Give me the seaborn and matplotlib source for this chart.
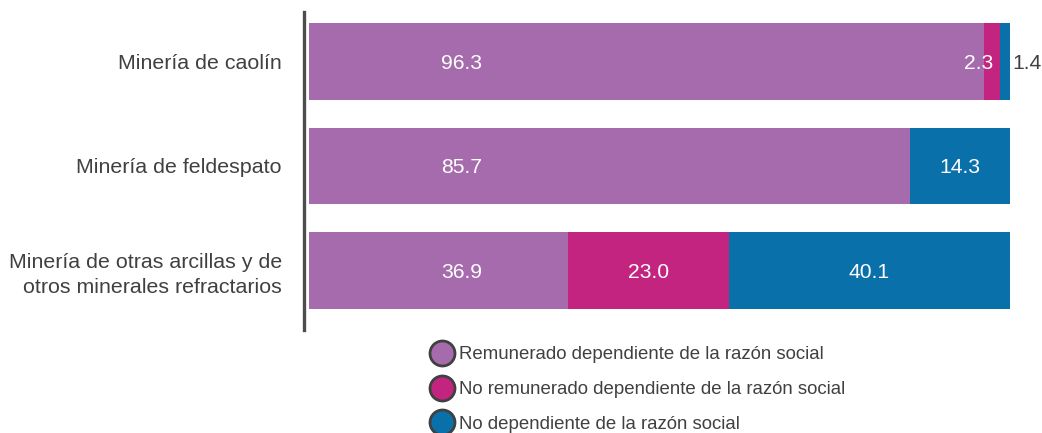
import matplotlib
matplotlib.use("Agg")
import matplotlib.pyplot as plt
from matplotlib.lines import Line2D
import seaborn as sns
import pandas as pd
import numpy as np

# Data: share of personnel by type of dependence (%)
categories = [
    "Minería de caolín",
    "Minería de feldespato",
    "Minería de otras arcillas y de\notros minerales refractarios",
]
series_names = [
    "Remunerado dependiente de la razón social",
    "No remunerado dependiente de la razón social",
    "No dependiente de la razón social",
]
remunerado = [96.3, 85.7, 36.9]
no_remunerado = [2.3, 0.0, 23.0]
no_dependiente = [1.4, 14.3, 40.1]

colors = ["#A66BAC", "#C2247F", "#0A70AA"]
text_dark = "#404040"

sns.set_theme(style="white")
plt.rcParams["font.family"] = ["Liberation Sans", "DejaVu Sans"]

fig = plt.figure(figsize=(10.42, 4.33), dpi=100)
ax = fig.add_axes([304 / 1042, 1 - 330 / 433, 706 / 1042, 318 / 433])

values = [remunerado, no_remunerado, no_dependiente]
left = np.zeros(len(categories))
for name, vals, col in zip(series_names, values, colors):
    df = pd.DataFrame({"cat": categories, "val": vals, "left": left})
    ax.barh(df["cat"], df["val"], left=df["left"], color=col, height=0.73,
            edgecolor="none")
    left = left + np.array(vals)

# Value labels
fs_val = 15.2
for i in range(len(categories)):
    start = 0.0
    for k, vals in enumerate(values):
        v = vals[i]
        if v <= 0:
            continue
        if k == 0:
            ax.text(21.8, i, f"{v:.1f}", ha="center", va="center_baseline",
                    color="white", fontsize=fs_val)
        elif v < 2:
            ax.text(start + v + 0.4, i, f"{v:.1f}", ha="left",
                    va="center_baseline", color=text_dark, fontsize=fs_val,
                    clip_on=False)
        elif v < 5:
            ax.text(start + v / 2 + 0.1, i, f"{v:.1f}", ha="right",
                    va="center_baseline", color="white", fontsize=fs_val)
        else:
            ax.text(start + v / 2, i, f"{v:.1f}", ha="center",
                    va="center_baseline", color="white", fontsize=fs_val)
        start += v

ax.set_xlim(-0.7, 100)
ax.set_ylim(2.57, -0.474)
ax.set_xticks([])
ax.set_ylabel("")
ax.set_xlabel("")
ax.tick_params(axis="y", length=0, pad=16, labelsize=15.4, labelcolor=text_dark)
for lbl in ax.get_yticklabels():
    lbl.set_multialignment("right")
    lbl.set_linespacing(1.4)
    lbl.set_verticalalignment("center_baseline")
for s in ["top", "right", "bottom"]:
    ax.spines[s].set_visible(False)
ax.spines["left"].set_color("#4D4D4D")
ax.spines["left"].set_linewidth(2.4)

handles = [
    Line2D([0], [0], marker="o", linestyle="none", markersize=18,
           markerfacecolor=c, markeredgecolor="#404040", markeredgewidth=2)
    for c in colors
]
fig.legend(handles, series_names, loc="upper left",
           bbox_to_anchor=(418 / 1042, 1 - 337 / 433), frameon=False,
           fontsize=13.4, labelcolor=text_dark, handletextpad=0.1,
           labelspacing=0.95, borderpad=0, handlelength=1.6)

fig.savefig("out.png", dpi=100)
